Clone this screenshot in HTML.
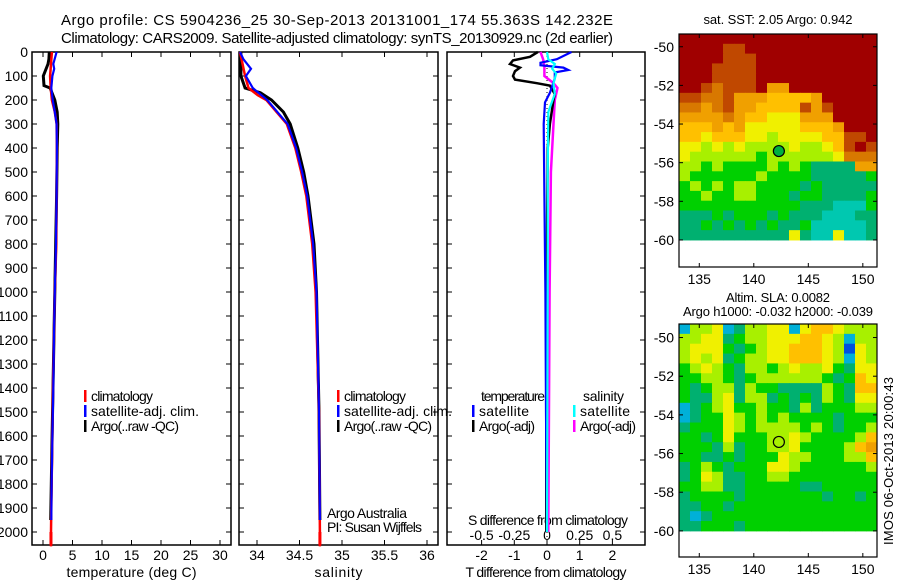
<!DOCTYPE html>
<html><head><meta charset="utf-8"><style>
html,body{margin:0;padding:0;background:#fff;}
svg{display:block;font-family:"Liberation Sans",sans-serif;}
text{fill:#000;}
</style></head><body>
<svg id="c" width="900" height="580" xmlns="http://www.w3.org/2000/svg"></svg>
<script>
// ---------- data ----------
const depthTicks=[0,100,200,300,400,500,600,700,800,900,1000,1100,1200,1300,1400,1500,1600,1700,1800,1900,2000];
const tempTicks=[0,5,10,15,20,25,30];
const salTicks=[34,34.5,35,35.5,36];
const tdiffTicks=[-2,-1,0,1,2];
const sdiffTicks=[-0.5,-0.25,0,0.25,0.5];
const lonTicks=[135,140,145,150];
const latTicks=[-50,-52,-54,-56,-58,-60];

const tClimDepth=[0,50,100,150,200,250,300,400,600,800,1000,1200,1400,1600,1800,2000,2060];
const tClimVal=[1.5,1.35,1.2,1.3,1.5,2.0,2.3,2.35,2.3,2.25,2.0,1.85,1.7,1.6,1.45,1.35,1.35];
const tSatDepth=[0,50,70,100,150,200,250,300,400,600,800,1000,1200,1400,1600,1800,1950];
const tSatVal=[2.3,1.75,1.9,1.6,1.4,1.65,2.0,2.3,2.35,2.3,2.2,2.0,1.85,1.75,1.6,1.45,1.4];
const tArgoDepth=[0,30,50,100,140,150,200,250,300,400,600,800,1000,1200,1400,1600,1800,1950];
const tArgoVal=[1.07,1.0,0.85,0.05,0.17,1.2,2.0,2.4,2.5,2.4,2.3,2.15,2.0,1.85,1.7,1.55,1.4,1.3];

const sClimDepth=[0,100,150,180,200,300,400,500,600,800,1000,1500,2000,2060];
const sClimVal=[33.8,33.86,33.9,34.01,34.11,34.35,34.45,34.52,34.58,34.65,34.69,34.73,34.74,34.74];
const sSatDepth=[0,30,70,100,150,200,300,400,500,600,800,1000,1500,1950];
const sSatVal=[33.8,33.84,33.93,33.87,33.95,34.12,34.36,34.46,34.53,34.59,34.66,34.7,34.73,34.74];
const sArgoDepth=[0,100,150,170,200,250,300,400,500,600,800,1000,1500,1950];
const sArgoVal=[33.81,33.81,33.86,34.04,34.17,34.31,34.39,34.48,34.55,34.6,34.67,34.7,34.73,34.74];

const dTSatDepth=[0,30,45,55,65,75,85,110,170,210,300,600,1000,1500,2000];
const dTSatVal=[0.75,0.3,-0.2,-0.2,0.5,0.65,0.24,0.24,0.09,-0.06,-0.1,-0.08,-0.05,-0.03,0];
const dTArgoDepth=[0,20,35,50,65,80,100,115,130,140,175,200,300,400,800,1500,2000];
const dTArgoVal=[-0.28,-0.52,-1.04,-1.13,-0.83,-0.98,-1.04,-0.98,-0.31,0.09,0.24,0.2,0.09,0.02,0,-0.02,-0.02];
const dSSatDepth=[0,30,50,70,90,130,175,250,500,1000,2000];
const dSSatVal=[0,0.01,0.06,0.04,0.07,0.05,0.06,0.01,0.005,0.005,0.0];
const dSArgoDepth=[0,30,60,100,130,150,200,300,500,1000,2000];
const dSArgoVal=[-0.05,-0.03,-0.02,-0.02,0.05,0.08,0.06,0.05,0.03,0.02,0.01];

const sstRows=[
"999999999999999999","999988999999999999","999988899999999999","999888899999999999",
"999888899999999999","998788896699999999","887786665555699999","776786655558689999",
"666676554446669999","555656444445556999","554555443444455889","443434333343345898",
"433333323333334777","332322223232111166","322222232222111112","232323322221211111",
"223223322212211112","222222222221110002","111212221211100011","112121212112000001",
"111111111141004001"];
const slaRows=[
"b334b13344b4554333","334412334445543b33","344421234455543a43","343412334455543b43",
"234321332343342144","223321233333321254","212331322111132155","211341331212132144",
"b12342232213122233","b12243232322221222","122243233332321223","221242223343222235",
"222131223342222356","221121222433222335","123212224432222223","124311223322222222",
"223311222221122222","122221222222212212","112212222222222222","1b1222222222222222",
"112221222222222222"];
const colorMap={a:"#0050e0",b:"#00b0d8","0":"#00c8b0","1":"#00b070","2":"#00d000","3":"#a8f000",
"4":"#f0f000","5":"#ffc000","6":"#f0a000","7":"#d87800","8":"#c04800","9":"#a00000"};
const argoLon=142.3, argoLat=-55.4;

// ---------- helpers ----------
const NS="http://www.w3.org/2000/svg";
const svg=document.getElementById('c');
function el(tag,attrs,parent){const e=document.createElementNS(NS,tag);for(const k in attrs)e.setAttribute(k,attrs[k]);(parent||svg).appendChild(e);return e;}
function txt(s,x,y,size,anchor,parent,len){const a={x:x,y:y,'font-size':size,'text-anchor':anchor||'start'};if(len){a.textLength=len;a.lengthAdjust='spacing';}const t=el('text',a,parent);t.textContent=s;return t;}
const TOP=52,BOT=545;
const yD=d=>TOP+d*0.24;

const panels=[
 {name:'temperature-panel',x0:32,x1:231,fx:v=>43+v*5.9,ticks:tempTicks,title:'temperature (deg C)',tl:130},
 {name:'salinity-panel',x0:239,x1:438,fx:v=>257+(v-34)*85,ticks:salTicks,title:'salinity',tl:48},
 {name:'difference-panel',x0:447,x1:645,fx:v=>547+v*32.7,ticks:tdiffTicks,title:'T difference from climatology',tl:161}
];
const fS=v=>547+v*130.8;

panels.forEach((p,i)=>{
  const g=el('g',{});
  
  
  const r=el('rect',{x:p.x0,y:TOP,width:p.x1-p.x0,height:BOT-TOP,fill:'none',stroke:'#000','stroke-width':1.5},g);
  
  
  depthTicks.forEach(d=>{
    el('line',{x1:p.x0,x2:p.x0+5,y1:yD(d),y2:yD(d),stroke:'#000'},g);
    el('line',{x1:p.x1,x2:p.x1-5,y1:yD(d),y2:yD(d),stroke:'#000'},g);
    if(i===0){const t=txt(String(d),28,yD(d)+5,14,'end',g);
      
      }
  });
  p.ticks.forEach(v=>{
    const x=p.fx(v);
    el('line',{x1:x,x2:x,y1:BOT,y2:BOT-5,stroke:'#000'},g);
    el('line',{x1:x,x2:x,y1:TOP,y2:TOP+5,stroke:'#000'},g);
    const t=txt(String(v),x,560,14,'middle',g);
    
    
  });
  const tt=txt(p.title,(p.x0+p.x1)/2,577,14,'middle',g,p.tl);
  
  
});
sdiffTicks.forEach(v=>{
  const t=txt(String(v),fS(v),540,14,'middle');
  
  
});
const sdt=txt('S difference from climatology',548,525,14,'middle',null,160);



function line(depths,vals,fx,color,w,name){
  const pts=depths.map((d,i)=>fx(vals[i]).toFixed(1)+','+yD(d).toFixed(1)).join(' ');
  const pl=el('polyline',{points:pts,fill:'none',stroke:color,'stroke-width':w,'stroke-linejoin':'miter'});
  
  
}
el('line',{x1:547,x2:547,y1:TOP,y2:BOT,stroke:'#000','stroke-dasharray':'1,3'});
line(tArgoDepth,tArgoVal,panels[0].fx,'#000',3,'temp-argo-line');
line(tClimDepth,tClimVal,panels[0].fx,'#f00',2.5,'temp-climatology-line');
line(tSatDepth,tSatVal,panels[0].fx,'#00f',2.2,'temp-satellite-line');
line(sArgoDepth,sArgoVal,panels[1].fx,'#000',3,'sal-argo-line');
line(sClimDepth,sClimVal,panels[1].fx,'#f00',2.5,'sal-climatology-line');
line(sSatDepth,sSatVal,panels[1].fx,'#00f',2.2,'sal-satellite-line');
line(dSArgoDepth,dSArgoVal,fS,'#f0f',2.5,'sdiff-argo-line');
line(dTArgoDepth,dTArgoVal,panels[2].fx,'#000',2.5,'tdiff-argo-line');
line(dTSatDepth,dTSatVal,panels[2].fx,'#00f',2.2,'tdiff-satellite-line');
line(dSSatDepth,dSSatVal,fS,'#0ff',2.2,'sdiff-satellite-line');
el('rect',{x:panels[0].fx(1.35)-1.5,y:yD(2000),width:3,height:BOT-yD(2000),fill:'#f00'});
el('rect',{x:panels[1].fx(34.74)-1.5,y:yD(2000),width:3,height:BOT-yD(2000),fill:'#f00'});

function leg(x,y,color,label,len){
  const g=el('g',{});
  
  
  el('rect',{x:x,y:y-11,width:2.5,height:12,fill:color},g);
  txt(label,x+7,y,14,'start',g,len);
}
leg(84,401,'#f00','climatology',62);leg(84,416,'#00f','satellite-adj. clim.',108);leg(84,431,'#000','Argo(..raw -QC)',88);
leg(337,401,'#f00','climatology',62);leg(337,416,'#00f','satellite-adj. clim.',108);leg(337,431,'#000','Argo(..raw -QC)',88);
const lt=txt('temperature',481,401,14,'start',null,64);
const ls=txt('salinity',583,401,14,'start',null,41);
leg(472,416,'#00f','satellite',50);leg(472,431,'#000','Argo(-adj)',56);
leg(573,416,'#0ff','satellite',50);leg(573,431,'#f0f','Argo(-adj)',56);
const a1=txt('Argo Australia',327,518,14,'start',null,80);
const a2=txt('PI: Susan Wijffels',327,532,14,'start',null,95);

const t1=txt('Argo profile: CS 5904236_25 30-Sep-2013 20131001_174 55.363S 142.232E',61,25,15,'start',null,552);

const t2=txt('Climatology: CARS2009. Satellite-adjusted climatology: synTS_20130929.nc (2d earlier)',61,43,15,'start',null,552);


function map(rows,top,bot,latTop,latBot,name,circleFill){
  const x0=679,x1=877,lonL=133.14,lonR=151.3;
  const fx=lon=>x0+(lon-lonL)/(lonR-lonL)*(x1-x0);
  const fy=lat=>top+(latTop-lat)/(latTop-latBot)*(bot-top);
  const g=el('g',{});
  
  
  const nR=rows.length,dLat=(latTop+60)/nR*-1;
  rows.forEach((row,ri)=>{
    for(let ci=0;ci<row.length;ci++){
      const lonA=lonL+ci*(lonR-lonL)/row.length, lonB=lonL+(ci+1)*(lonR-lonL)/row.length;
      const la=latTop+ri*dLat, lb=latTop+(ri+1)*dLat;
      const c=el('rect',{x:fx(lonA),y:fy(la),width:fx(lonB)-fx(lonA)+0.5,height:fy(lb)-fy(la)+0.5,fill:colorMap[row[ci]]},g);
      
      
    }
  });
  el('rect',{x:x0,y:top,width:x1-x0,height:bot-top,fill:'none',stroke:'#000','stroke-width':1.2},g);
  latTicks.forEach(l=>{const y=fy(l);
    el('line',{x1:x0,x2:x0+4,y1:y,y2:y,stroke:'#000'},g);el('line',{x1:x1,x2:x1-4,y1:y,y2:y,stroke:'#000'},g);
    const t=txt(String(l),674,y+5,14,'end',g);});
  lonTicks.forEach(l=>{const x=fx(l);
    el('line',{x1:x,x2:x,y1:bot,y2:bot-4,stroke:'#000'},g);el('line',{x1:x,x2:x,y1:top,y2:top+4,stroke:'#000'},g);
    const t=txt(String(l),x,bot+17,14,'middle',g);});
  const c=el('circle',{cx:fx(argoLon),cy:fy(argoLat),r:5.5,fill:circleFill,stroke:'#000','stroke-width':1.2},g);
  
  
}
map(sstRows,34,267,-49.34,-61.4,'sst-map','#00b040');
map(slaRows,324,557,-49.3,-61.35,'sla-map','none');
const m1=txt('sat. SST: 2.05  Argo: 0.942',778,24,13,'middle',null,149);
const m2=txt('Altim. SLA: 0.0082',778,302,13,'middle',null,104);
const m3=txt('Argo h1000: -0.032 h2000: -0.039',778,316,13,'middle',null,190);
const st=txt('IMOS 06-Oct-2013 20:00:43',0,0,13,'start',null,168);
st.setAttribute('transform','translate(893,545) rotate(-90)');


</script>
</body></html>
